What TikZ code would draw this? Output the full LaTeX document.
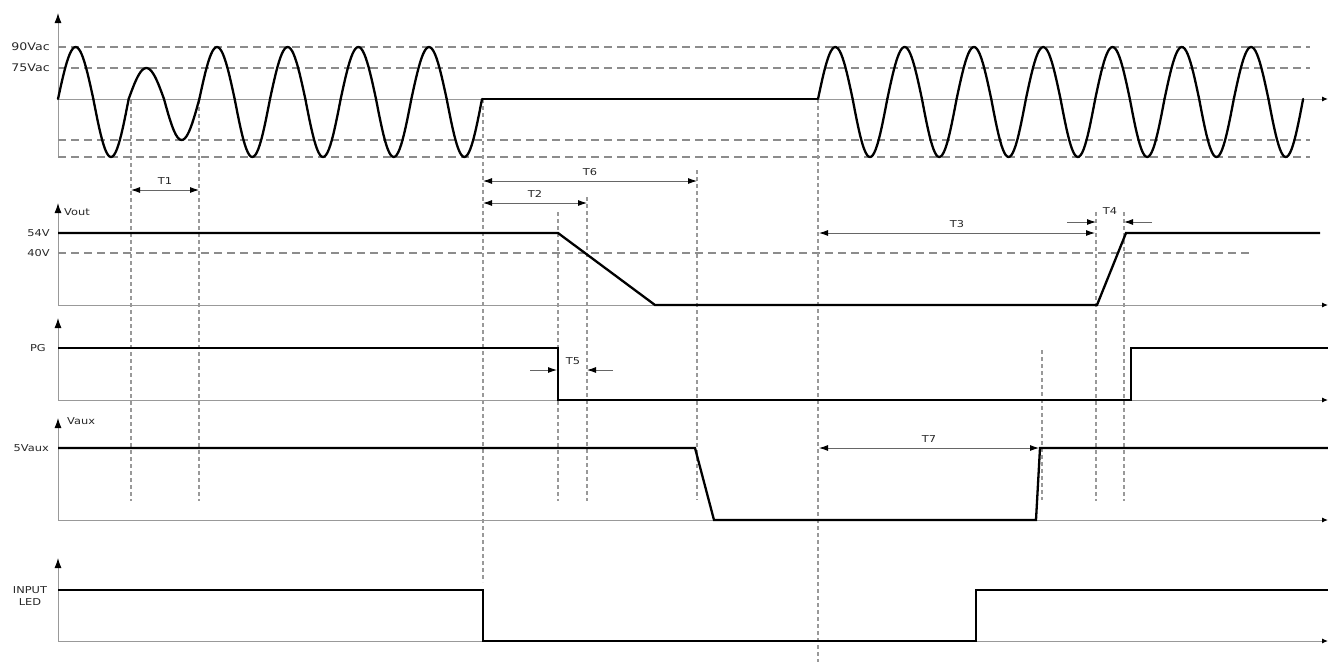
\documentclass[tikz,border=0pt]{standalone}
\usepackage{fontspec}
\setmainfont{DejaVu Sans}
\usepackage{tikz}
\usetikzlibrary{arrows.meta}
\usetikzlibrary{positioning}
\tikzstyle{axis}=[draw=black!40,line width=1pt]
\tikzstyle{vaxis}=[axis,-{Latex[length=10pt,width=7pt,black]}]
\tikzstyle{haxis}=[axis,-{Latex[length=6pt,width=5pt,black]}]
\tikzstyle{level}=[draw=black!45,line width=1.1pt,dash pattern=on 8pt off 5pt]
\tikzstyle{guide}=[draw=black!40,line width=1.1pt,dash pattern=on 4pt off 3pt]
\tikzstyle{signal}=[draw=black,line width=2.3pt,line join=miter]
\tikzstyle{wave}=[draw=black,line width=2.3pt,line cap=round]
\tikzstyle{dim}=[draw=black!60,line width=0.9pt,{Latex[length=9pt,width=6pt,black]}-{Latex[length=9pt,width=6pt,black]}]
\tikzstyle{halfdim}=[draw=black!60,line width=0.9pt,-{Latex[length=9pt,width=6pt,black]}]
\tikzset{lbl/.style={font=\fontsize{9.5}{11.5}\selectfont,text=black!85,inner sep=0pt,xscale=1.2}}
\tikzset{toplbl/.style={lbl,font=\fontsize{10.5}{12}\selectfont}}

\begin{document}
\begin{tikzpicture}[x=1pt,y=-1pt]
\useasboundingbox (0,0) rectangle (1328,662);

 %axes
 \foreach \top/\base/\zero in {13/157/99, 203/305/305, 318/400/400, 418/520/520, 558/641/641}
 {
   \draw[vaxis] (58,\base) -- (58,\top);
   \draw[haxis] (58,\zero) -- (1328,\zero);
 }

 %levels
 \foreach \y in {47, 68, 140, 157}
   \draw[level] (58,\y) -- (1310,\y);
 \draw[level] (58,253) -- (1252,253);

 %guides
 \foreach \x/\ya/\yb in {131/100/501, 199/100/501, 483/99/582, 818/99/662, 558/212/501,
                         587/197/501, 697/170/500, 1096/212/501, 1124/212/501, 1042/350/500}
   \draw[guide] (\x,\ya) -- (\x,\yb);

 %AC input
  \def\xa{58};
  \def\Pa{70.67};
 \foreach \i/\ap/\an in {0/52/58, 1/31/41, 2/52/58, 3/52/58, 4/52/58, 5/52/58}
 {
   \draw[wave] plot[domain=0:180,samples=25] ({\xa+\i*\Pa+\x/360*\Pa},{99-\ap*sin(\x)});
   \draw[wave] plot[domain=180:360,samples=25] ({\xa+\i*\Pa+\x/360*\Pa},{99-\an*sin(\x)});
 }
  \def\xb{818};
  \def\Pb{69.3};
 \foreach \i in {0,...,6}
 {
   \draw[wave] plot[domain=0:180,samples=25] ({\xb+\i*\Pb+\x/360*\Pb},{99-52*sin(\x)});
   \draw[wave] plot[domain=180:360,samples=25] ({\xb+\i*\Pb+\x/360*\Pb},{99-58*sin(\x)});
 }
 \draw[signal] (482,99) -- (818,99);

 %signals
 \draw[signal] (58,233) -- (558,233) -- (655,305) -- (1097,305) -- (1126,233) -- (1320,233);
 \draw[signal] (58,348) -- (558,348) -- (558,400) -- (1131,400) -- (1131,348) -- (1328,348);
 \draw[signal] (58,448) -- (695,448) -- (714,520) -- (1036,520) -- (1040,448) -- (1328,448);
 \draw[signal] (58,590) -- (483,590) -- (483,641) -- (976,641) -- (976,590) -- (1328,590);

 %axis labels
 \foreach \x/\y/\name/\label in {50/47/l90/90Vac, 50/68/l75/75Vac}
   \node[toplbl,anchor=east] (\name) at (\x,\y) {\label};
 \foreach \x/\y/\name/\label in {50/233/l54/54V, 50/253/l40/40V, 46/348/lpg/PG, 49/448/l5v/5Vaux}
   \node[lbl,anchor=east] (\name) at (\x,\y) {\label};
 \node[lbl,anchor=west] (lvout) at (64,212) {Vout};
 \node[lbl,anchor=west] (lvaux) at (67,421) {Vaux};
 \node[lbl,align=center] (lled) at (30,596) {INPUT\\LED};

 %timing
 \foreach \xl/\xr/\y/\name in {131/199/190/T1, 483/697/181/T6, 483/587/203/T2, 819/1095/233/T3, 819/1039/448/T7}
 {
   \coordinate (\name l) at (\xl,\y);
   \coordinate (\name r) at (\xr,\y);
   \draw[dim] (\name l) -- node[lbl,above=5pt] {\name} (\name r);
 }

 %T4
 \coordinate (T4a) at (1067,222);
 \coordinate (T4b) at (1096,222);
 \coordinate (T4c) at (1152,222);
 \coordinate (T4d) at (1124,222);
 \draw[halfdim] (T4a) -- (T4b);
 \draw[halfdim] (T4c) -- (T4d);
 \node[lbl] (lt4) at (1110,211) {T4};

 %T5
 \coordinate (T5a) at (530,370);
 \coordinate (T5b) at (557,370);
 \coordinate (T5c) at (613,370);
 \coordinate (T5d) at (587,370);
 \draw[halfdim] (T5a) -- (T5b);
 \draw[halfdim] (T5c) -- (T5d);
 \node[lbl] (lt5) at (573,361) {T5};

\end{tikzpicture}
\end{document}
